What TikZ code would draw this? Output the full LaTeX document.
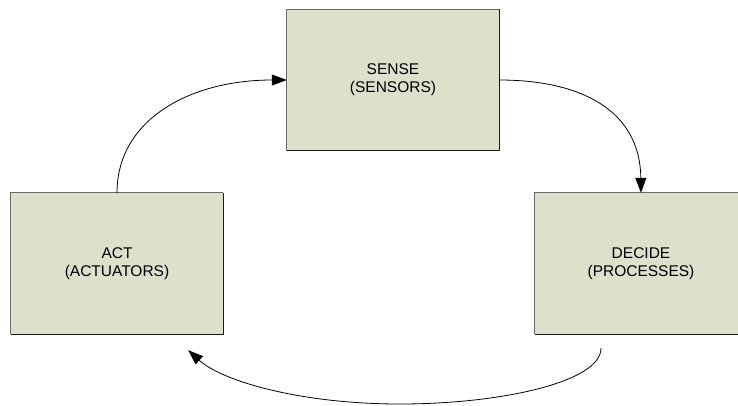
\documentclass[tikz,border=0pt]{standalone}
\usepackage{fontspec}
\setmainfont{Liberation Sans}
\usetikzlibrary{arrows.meta,calc}

\definecolor{boxfill}{RGB}{222,224,204}
\definecolor{edgelight}{RGB}{105,105,105}
\definecolor{edgedark}{RGB}{25,25,25}

\tikzset{
  stagebox/.style={fill=boxfill, minimum width=212pt, minimum height=141pt,
    inner sep=0pt, align=center, font=\fontsize{15.5}{18}\selectfont},
  flow/.style={line width=0.8pt, -{Triangle[length=15pt,width=11pt]}},
}

% Box with a lighter top/left edge and a darker bottom/right edge
\newcommand\shadedges[1]{%
  \draw[edgelight, line width=1pt] (#1.south west) -- (#1.north west) -- (#1.north east);
  \draw[edgedark, line width=1pt] (#1.north east) -- (#1.south east) -- (#1.south west);
}

\begin{document}
\begin{tikzpicture}[x=1pt,y=-1pt]
  \useasboundingbox[fill=white] (0,0) rectangle (738,405);

  \node[stagebox] (sense)  at (393,80)    {SENSE\\(SENSORS)};
  \node[stagebox] (act)    at (117,263.5) {ACT\\(ACTUATORS)};
  \node[stagebox] (decide) at (641,263.5) {DECIDE\\(PROCESSES)};
  \shadedges{sense}
  \shadedges{act}
  \shadedges{decide}

  % act -> sense
  \draw[flow] (act.north) .. controls ($(act.north)+(0,-73)$) and ($(sense.west)+(-97,0)$) .. (sense.west);
  % sense -> decide
  \draw[flow] (sense.east) .. controls ($(sense.east)+(81,0)$) and ($(decide.north)+(-1,-83)$) .. (decide.north);

  % decide -> act, passing below both boxes
  \coordinate (loopstart) at ($(decide.south)+(-40,14)$);
  \coordinate (loopbottom) at (400,404);
  \coordinate (loopend) at ($(act.south east)+(-35,16)$);
  \draw[flow] (loopstart) .. controls ($(loopstart)+(0,34)$) and (500,404) .. (loopbottom)
    .. controls (300,404) and (222,381) .. (loopend);
\end{tikzpicture}
\end{document}
